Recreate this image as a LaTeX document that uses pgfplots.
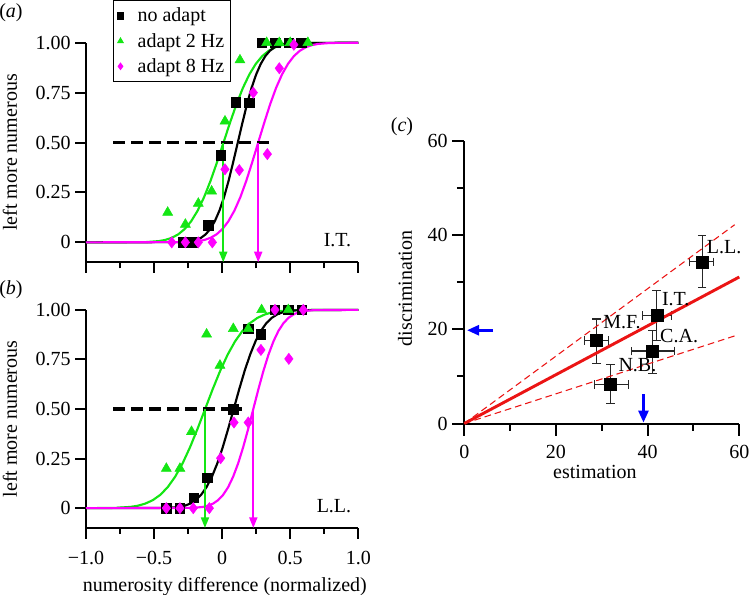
\documentclass[border=0pt]{standalone}
\usepackage{pgfplots}
\pgfplotsset{compat=1.18}
\usepackage{fontspec}
\setmainfont{Liberation Serif}
\usetikzlibrary{arrows.meta}
\definecolor{mygreen}{RGB}{20,230,20}
\definecolor{mymag}{RGB}{255,0,255}
\definecolor{myred}{RGB}{235,20,20}
\definecolor{myblue}{RGB}{0,0,255}
\pgfplotsset{
  panel/.style={
    scale only axis,
    axis x line=bottom, axis y line=left,
    axis line style={-, line width=1.5pt},
    tick align=outside,
    tick style={black, line width=1.5pt},
    clip=false,
    tick label style={font=\fontsize{15}{18}\selectfont},
    label style={font=\fontsize{15}{18}\selectfont},
  },
  psy/.style={
    panel,
    width=204.2pt,
    xmin=-1, xmax=1, ymin=-0.1, ymax=1,
    xtick={-1,-0.5,0,0.5,1},
    minor xtick={-0.75,-0.25,0.25,0.75},
    ytick={0,0.25,0.5,0.75,1},
    yticklabels={0,0.25,0.50,0.75,1.00},
    major tick length=8pt, minor tick length=4.5pt,
    ylabel={left more numerous},
    ylabel style={at={(axis description cs:-0.279,0.5)}, anchor=center},
  },
  fitline/.style={line width=1.6pt, forget plot},
  arr/.style={line width=1.4pt, forget plot, -{Triangle[length=8pt,width=6pt]}},
  hdash/.style={black, line width=2.3pt, dash pattern=on 8.5pt off 5pt, forget plot},
  sq/.style={only marks, mark=square*, mark size=3.6pt, black},
  tri/.style={only marks, mark=triangle*, mark size=4.3pt, color=mygreen},
  dia/.style={only marks, mark=diamond*, mark size=4.2pt, color=mymag},
  eb/.style={black!85, line width=0.8pt, {Bar[width=6.5pt]}-{Bar[width=6.5pt]}},
}
\begin{document}
\begin{tikzpicture}[font=\fontsize{15}{18}\selectfont]
\useasboundingbox (0,0) rectangle (562.5pt,446.25pt);

% ---------------- panel (a) ----------------
\begin{axis}[psy, at={(64.5pt,249.5pt)}, anchor=south west, height=164.7pt,
  xticklabels={},
  legend style={at={(axis description cs:0.099,1.194)}, anchor=north west,
    draw=black, line width=0.8pt, font=\fontsize{15}{18}\selectfont,
    inner sep=2pt, nodes={inner xsep=2.5pt, inner ysep=3.5pt}, cells={anchor=west}},
  legend image code/.code={\path (-0.05cm,0) (0.4cm,0); \draw[#1, mark size=2.3pt] plot coordinates {(0.05cm,0cm)};},
]
\addplot[fitline, mygreen] coordinates {(-1,0) (-0.56,0.0013) (-0.465,0.0062) (-0.4175,0.0122) (-0.37,0.0228) (-0.3225,0.0401) (-0.275,0.0668) (-0.2275,0.1056) (-0.18,0.1587) (-0.1325,0.2266) (-0.085,0.3085) (-0.0375,0.4013) (0.01,0.5) (0.0575,0.5987) (0.105,0.6915) (0.1525,0.7734) (0.2,0.8413) (0.2475,0.8944) (0.295,0.9332) (0.3425,0.9599) (0.39,0.9772) (0.4375,0.9878) (0.485,0.9938) (0.58,0.9987) (1,1)};
\addplot[fitline, black] coordinates {(-1,0) (-0.29,0.0013) (-0.2225,0.0062) (-0.189,0.0122) (-0.155,0.0228) (-0.121,0.0401) (-0.0875,0.0668) (-0.054,0.1056) (-0.02,0.1587) (0.014,0.2266) (0.0475,0.3085) (0.081,0.4013) (0.115,0.5) (0.149,0.5987) (0.1825,0.6915) (0.216,0.7734) (0.25,0.8413) (0.284,0.8944) (0.3175,0.9332) (0.351,0.9599) (0.385,0.9772) (0.419,0.9878) (0.4525,0.9938) (0.52,0.9987) (1,1)};
\addplot[fitline, mymag] coordinates {(-1,0) (-0.26,0.0013) (-0.1725,0.0062) (-0.129,0.0122) (-0.085,0.0228) (-0.041,0.0401) (0.0025,0.0668) (0.046,0.1056) (0.09,0.1587) (0.134,0.2266) (0.1775,0.3085) (0.221,0.4013) (0.265,0.5) (0.309,0.5987) (0.3525,0.6915) (0.396,0.7734) (0.44,0.8413) (0.484,0.8944) (0.5275,0.9332) (0.571,0.9599) (0.615,0.9772) (0.659,0.9878) (0.7025,0.9938) (0.79,0.9987) (1,1)};
\addplot[hdash] coordinates {(-0.80,0.5) (0.364,0.5)};
\addplot[arr, mygreen] coordinates {(0.008,0.5) (0.008,-0.1)};
\addplot[arr, mymag] coordinates {(0.265,0.5) (0.265,-0.1)};
\addplot[sq] coordinates {(-0.29,0) (-0.21,0) (-0.10,0.085) (-0.01,0.437) (0.10,0.703) (0.20,0.70) (0.29,1) (0.39,1) (0.49,1) (0.58,1)};
\addlegendentry{no adapt}
\addplot[tri] coordinates {(-0.40,0.15) (-0.27,0.09) (-0.175,0.195) (-0.077,0.256) (0.021,0.607) (0.131,0.913) (0.327,1) (0.42,1) (0.50,1) (0.63,1)};
\addlegendentry{adapt 2 Hz}
\addplot[dia] coordinates {(-0.37,0) (-0.27,0) (-0.175,0) (-0.072,0) (0.021,0.366) (0.126,0.362) (0.229,0.75) (0.332,0.442) (0.42,0.872) (0.527,0.99)};
\addlegendentry{adapt 8 Hz}
\node[anchor=east, inner sep=0pt] at (axis cs:0.95,0.01) {I.T.};
\end{axis}

% ---------------- panel (b) ----------------
\begin{axis}[psy, at={(64.5pt,50.25pt)}, anchor=south west, height=163.6pt,
  xticklabels={−1.0,−0.5,0,0.5,1.0},
  xticklabel style={yshift=-6pt},
  xlabel={numerosity difference (normalized)},
  xlabel style={at={(axis description cs:0.51,-0.27)}, anchor=center, inner sep=0pt},
]
\addplot[fitline, mygreen] coordinates {(-1,0) (-0.785,0.0013) (-0.675,0.0062) (-0.62,0.0122) (-0.565,0.0228) (-0.51,0.0401) (-0.455,0.0668) (-0.4,0.1056) (-0.345,0.1587) (-0.29,0.2266) (-0.235,0.3085) (-0.18,0.4013) (-0.125,0.5) (-0.07,0.5987) (-0.015,0.6915) (0.04,0.7734) (0.095,0.8413) (0.15,0.8944) (0.205,0.9332) (0.26,0.9599) (0.315,0.9772) (0.37,0.9878) (0.425,0.9938) (0.535,0.9987) (1,1)};
\addplot[fitline, black] coordinates {(-1,0) (-0.395,0.0013) (-0.315,0.0062) (-0.275,0.0122) (-0.235,0.0228) (-0.195,0.0401) (-0.155,0.0668) (-0.115,0.1056) (-0.075,0.1587) (-0.035,0.2266) (0.005,0.3085) (0.045,0.4013) (0.085,0.5) (0.125,0.5987) (0.165,0.6915) (0.205,0.7734) (0.245,0.8413) (0.285,0.8944) (0.325,0.9332) (0.365,0.9599) (0.405,0.9772) (0.445,0.9878) (0.485,0.9938) (0.565,0.9987) (1,1)};
\addplot[fitline, mymag] coordinates {(-1,0) (-0.215,0.0013) (-0.141,0.0062) (-0.104,0.0122) (-0.067,0.0228) (-0.03,0.0401) (0.007,0.0668) (0.044,0.1056) (0.081,0.1587) (0.118,0.2266) (0.155,0.3085) (0.192,0.4013) (0.229,0.5) (0.266,0.5987) (0.303,0.6915) (0.34,0.7734) (0.377,0.8413) (0.414,0.8944) (0.451,0.9332) (0.488,0.9599) (0.525,0.9772) (0.562,0.9878) (0.599,0.9938) (0.673,0.9987) (1,1)};
\addplot[hdash] coordinates {(-0.80,0.5) (0.143,0.5)};
\addplot[arr, mygreen] coordinates {(-0.126,0.5) (-0.126,-0.1)};
\addplot[arr, mymag] coordinates {(0.229,0.5) (0.229,-0.1)};
\addplot[sq] coordinates {(-0.41,0) (-0.31,0) (-0.207,0.053) (-0.109,0.154) (0.082,0.499) (0.192,0.905) (0.285,0.877) (0.388,1) (0.486,1) (0.584,1)};
\addplot[tri] coordinates {(-0.41,0.20) (-0.31,0.20) (-0.225,0.386) (-0.114,0.877) (-0.016,0.72) (0.082,0.905) (0.192,0.905) (0.29,1.0) (0.486,1.0)};
\addplot[dia] coordinates {(-0.41,0) (-0.31,0) (-0.212,0) (-0.094,0) (-0.011,0.252) (0.087,0.432) (0.192,0.432) (0.285,0.798) (0.388,1.0) (0.49,0.753) (0.596,1.0)};
\node[anchor=east, inner sep=0pt] at (axis cs:0.95,0.01) {L.L.};
\end{axis}

% ---------------- panel (c) ----------------
\begin{axis}[panel, at={(348.2pt,128.6pt)}, anchor=south west,
  width=206.25pt, height=212pt,
  xmin=0, xmax=60, ymin=0, ymax=60,
  xtick={0,20,40,60}, minor xtick={10,30,50},
  ytick={0,20,40,60}, minor ytick={10,30,50},
  xticklabels={0,20,40,60}, yticklabels={0,20,40,60},
  xticklabel style={yshift=-4pt},
  major tick length=9pt, minor tick length=5.5pt,
  xlabel={estimation}, ylabel={discrimination},
  xlabel style={at={(axis description cs:0.475,-0.171)}, anchor=center},
  ylabel style={at={(axis description cs:-0.2156,0.478)}, anchor=center},
]
% error bars: L.L., I.T., M.F., C.A., N.B.
\addplot[eb] coordinates {(49.1,34.3) (54.5,34.3)};
\addplot[eb] coordinates {(51.9,28.7) (51.9,40.0)};
\addplot[eb] coordinates {(38.7,23.0) (45.3,23.0)};
\addplot[eb] coordinates {(42.0,17.5) (42.0,28.4)};
\addplot[eb] coordinates {(26.1,17.6) (31.6,17.6)};
\addplot[eb] coordinates {(28.9,12.7) (28.9,22.3)};
\addplot[eb] coordinates {(36.3,15.4) (46.0,15.4)};
\addplot[eb] coordinates {(41.1,10.6) (41.1,19.9)};
\addplot[eb] coordinates {(28.3,8.3) (36.0,8.3)};
\addplot[eb] coordinates {(31.9,4.1) (31.9,12.7)};
\addplot[myred, line width=2.2pt] coordinates {(0,0) (60,31.1)};
\addplot[myred, line width=0.8pt, dash pattern=on 5pt off 3pt] coordinates {(0,0) (59,42.2)};
\addplot[myred, line width=0.8pt, dash pattern=on 5pt off 3pt] coordinates {(0,0) (59,18.6)};
\addplot[only marks, mark=square*, mark size=4.5pt, black] coordinates {(51.9,34.3) (42.0,23.0) (28.9,17.6) (41.1,15.4) (31.9,8.3)};
\addplot[myblue, line width=2pt, -{Triangle[length=9pt,width=7.5pt]}] coordinates {(6.3,19.8) (0.6,19.8)};
\addplot[myblue, line width=2pt, -{Triangle[length=9pt,width=7.5pt]}] coordinates {(39.1,6.2) (39.1,0.2)};
\node[anchor=west, inner sep=0pt] at (axis cs:52.9,37.5) {L.L.};
\node[anchor=west, inner sep=0pt] at (axis cs:43.1,26.5) {I.T.};
\node[anchor=west, inner sep=0pt] at (axis cs:30.3,21.6) {M.F.};
\node[anchor=west, inner sep=0pt] at (axis cs:42.7,18.5) {C.A.};
\node[anchor=west, inner sep=0pt] at (axis cs:33.6,12.4) {N.B.};
\end{axis}

\node at (8.25pt,436.5pt) {(\textit{a})};
\node at (8.25pt,228.75pt) {(\textit{b})};
\node at (301.5pt,351pt) {(\textit{c})};
\end{tikzpicture}
\end{document}
